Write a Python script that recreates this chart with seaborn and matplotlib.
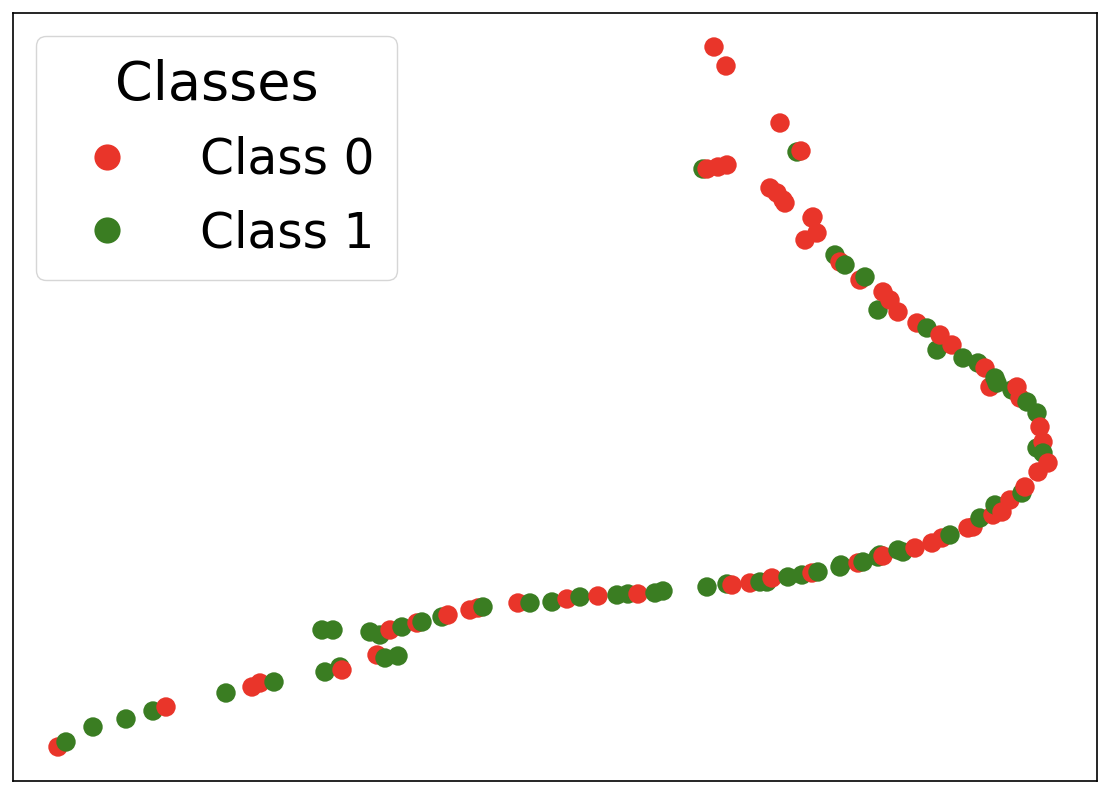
import matplotlib
matplotlib.use("Agg")
import matplotlib.pyplot as plt
import seaborn as sns
import pandas as pd

# values (horizontal / vertical position of each point)
class_0_x = [714, 726, 780, 801, 707, 718, 727, 770, 777, 783, 785, 813, 812, 817, 805,
             840, 860, 883, 890, 898, 917, 940, 952, 985, 990, 1017, 1020, 1040, 1043,
             1048, 1038, 1025, 1010, 1002, 993, 973, 968, 942, 932, 915, 883, 858, 812,
             772, 750, 732, 638, 598, 567, 518, 470, 478, 448, 417, 390, 377, 342, 252,
             260, 166, 58]
class_0_y = [47, 66, 123, 151, 169, 167, 165, 188, 193, 200, 203, 217, 218, 233, 240,
             262, 280, 292, 300, 312, 323, 335, 345, 368, 387, 387, 398, 427, 442,
             463, 472, 487, 500, 512, 515, 527, 528, 538, 543, 548, 556, 563, 573,
             578, 583, 585, 594, 596, 599, 603, 610, 608, 615, 623, 630, 655, 670, 687,
             683, 707, 747]
class_1_x = [703, 797, 835, 845, 865, 878, 927, 937, 963, 978, 995, 1012, 1027, 997,
             1037, 1037, 1043, 1022, 995, 980, 950, 903, 880, 898, 878, 863, 841, 840,
             818, 802, 788, 767, 760, 727, 707, 663, 655, 628, 617, 580, 552, 530, 483,
             442, 422, 402, 380, 370, 322, 333, 385, 398, 325, 340, 274, 226, 153, 126,
             93, 66]
class_1_y = [169, 152, 255, 265, 277, 310, 328, 350, 358, 363, 378, 390, 402, 383,
             413, 448, 453, 493, 505, 518, 535, 552, 555, 550, 557, 562, 565, 567,
             572, 575, 577, 582, 582, 584, 587, 591, 593, 594, 595, 597, 602, 603, 607,
             617, 622, 627, 635, 632, 630, 630, 658, 656, 672, 667, 682, 693, 711, 719,
             727, 742]
class_labels = ["Class 0", "Class 1"]
class_colors = ["#e9352a", "#3a7d22"]

df = pd.concat([
    pd.DataFrame({"x": class_0_x, "y": class_0_y, "Classes": class_labels[0]}),
    pd.DataFrame({"x": class_1_x, "y": class_1_y, "Classes": class_labels[1]}),
])
# interleave so neither class always sits on top
df = df.sort_values("x", kind="stable").reset_index(drop=True)

sns.set_style("white")
plt.rcParams["text.color"] = "black"

fig = plt.figure(figsize=(11.08, 7.94), dpi=100)
ax = fig.add_axes([13 / 1108, 13 / 794, 1084 / 1108, 768 / 794])

sns.scatterplot(data=df, x="x", y="y", hue="Classes", hue_order=class_labels,
                palette=class_colors, s=195, linewidth=0, alpha=1, ax=ax)

ax.set_xlim(13, 1097)
ax.set_ylim(781, 13)
ax.set_xticks([])
ax.set_yticks([])
ax.set_xlabel("")
ax.set_ylabel("")
for spine in ax.spines.values():
    spine.set_color("black")
    spine.set_linewidth(1.2)

leg = ax.legend(title="Classes", loc="upper left", fontsize=35, title_fontsize=39,
                markerscale=1.35, handletextpad=0.9, labelspacing=0.52,
                borderpad=0.46, borderaxespad=0.48, frameon=True, framealpha=1)
leg.get_frame().set_edgecolor("#d6d6d6")
leg.get_title().set_color("black")
for t in leg.get_texts():
    t.set_color("black")

fig.savefig("out.png", dpi=100)
plt.close(fig)
